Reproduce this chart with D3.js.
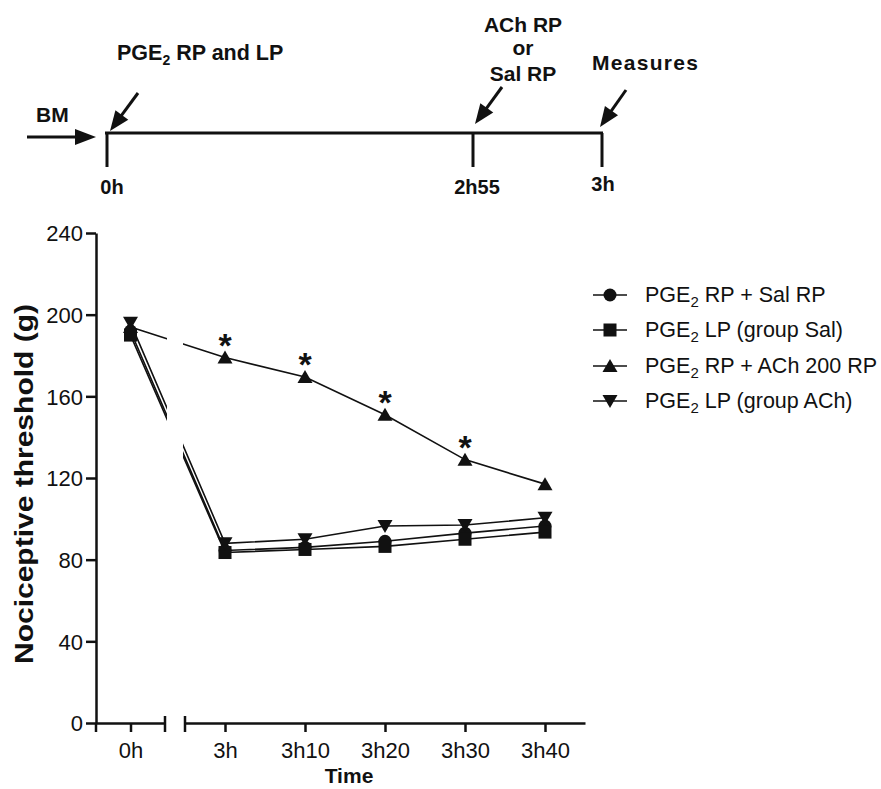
<!DOCTYPE html>
<html>
<head>
<meta charset="utf-8">
<script src="https://cdn.jsdelivr.net/npm/d3@7"></script>
<style>
  body { margin: 0; background: #fff; }
  svg { display: block; }
  text { font-family: "Liberation Sans", Arial, sans-serif; fill: #111; }
</style>
</head>
<body>
<svg id="chart" width="881" height="789"></svg>
<script>
// ---------- data ----------
const times = [0, 180, 190, 200, 210, 220];          // minutes
const timeLabels = ["0h", "3h", "3h10", "3h20", "3h30", "3h40"];
const yTicks = [0, 40, 80, 120, 160, 200, 240];

const salRP   = [192, 84.5, 86, 89, 93, 96.5];     // circle
const salLP   = [190, 83.5, 85, 86.5, 90, 93.5];   // square
const achRP   = [194, 179, 169.5, 151, 129, 117];  // up triangle
const achLP   = [196, 88, 90, 96.5, 97, 100.5];    // down triangle
const starTimes = [180, 190, 200, 210];

const seriesNames = ["PGE|2| RP + Sal RP", "PGE|2| LP (group Sal)", "PGE|2| RP + ACh 200 RP", "PGE|2| LP (group ACh)"];
const seriesSymbols = ["circle", "square", "up", "down"];

const timeline = [
  { label: "0h", at: 0 },
  { label: "2h55", at: 175 },
  { label: "3h", at: 180 }
];

// ---------- setup ----------
const svg = d3.select("#chart");
const ink = "#111";

const y = d3.scaleLinear().domain([0, 240]).range([723, 233]);
const xl = d3.scaleLinear().domain([-5, 5]).range([96, 165]);
const xr = d3.scaleLinear().domain([175, 225]).range([185, 585]);
const x = t => (t <= 5 ? xl(t) : xr(t));

// ---------- timeline (top, not to scale) ----------
const tl = d3.scaleLinear().domain([0, 175, 180]).range([107, 473, 602]);
const tg = svg.append("g");
tg.append("line").attr("x1", 105).attr("x2", tl(180) + 1).attr("y1", 133).attr("y2", 133)
  .attr("stroke", ink).attr("stroke-width", 3);
const tlOffset = { 0: [5, 194], 175: [4, 194], 180: [1, 191] };
timeline.forEach(d => {
  tg.append("line").attr("x1", tl(d.at)).attr("x2", tl(d.at)).attr("y1", 133).attr("y2", 167)
    .attr("stroke", ink).attr("stroke-width", 3);
  tg.append("text").attr("x", tl(d.at) + tlOffset[d.at][0]).attr("y", tlOffset[d.at][1])
    .attr("text-anchor", "middle").attr("font-weight", "bold").attr("font-size", 20)
    .text(d.label);
});

function arrow(x1, y1, x2, y2, hl, hw) {
  const ang = Math.atan2(y2 - y1, x2 - x1);
  const bx = x2 - hl * Math.cos(ang), by = y2 - hl * Math.sin(ang);
  const px = -Math.sin(ang) * hw, py = Math.cos(ang) * hw;
  tg.append("line").attr("x1", x1).attr("y1", y1).attr("x2", bx + hl * 0.2 * Math.cos(ang)).attr("y2", by + hl * 0.2 * Math.sin(ang))
    .attr("stroke", ink).attr("stroke-width", 3);
  tg.append("path").attr("d", `M${x2},${y2}L${bx + px},${by + py}L${bx - px},${by - py}Z`).attr("fill", ink);
}
arrow(27, 137, 96, 137, 21, 8);
arrow(138, 93, 110, 131, 20, 8);
arrow(502, 87, 475, 124, 20, 8);
arrow(626, 90, 600, 127, 20, 8);

const bold = (t, xx, yy, txt, anchor, ls) => t.append("text").attr("x", xx).attr("y", yy)
  .attr("font-weight", "bold").attr("font-size", 21).attr("text-anchor", anchor || "start")
  .attr("letter-spacing", ls || 0).text(txt);

bold(tg, 36, 122, "BM");
const pge = tg.append("text").attr("x", 117).attr("y", 60).attr("font-weight", "bold").attr("font-size", 21.5);
pge.append("tspan").text("PGE");
pge.append("tspan").attr("font-size", 14).attr("dy", 5).text("2");
pge.append("tspan").attr("dy", -5).text(" RP and LP");
bold(tg, 523, 32, "ACh RP", "middle");
bold(tg, 523, 55, "or", "middle");
bold(tg, 523, 81, "Sal RP", "middle");
bold(tg, 592, 70, "Measures", "start", 1.3);

// ---------- axes ----------
const axisW = 2.5;
const ya = svg.append("g").attr("transform", "translate(96,0)")
  .call(d3.axisLeft(y).tickValues(yTicks).tickSize(10).tickSizeOuter(0).tickPadding(3));
ya.selectAll("text").attr("font-size", 22).attr("fill", ink).attr("dy", "0.36em");
ya.selectAll("line, path").attr("stroke", ink).attr("stroke-width", axisW);

const xaL = svg.append("g").attr("transform", "translate(0,723)")
  .call(d3.axisBottom(xl).tickValues([0]).tickFormat(() => timeLabels[0]).tickSize(9).tickSizeOuter(0).tickPadding(10));
const xaR = svg.append("g").attr("transform", "translate(0,723)")
  .call(d3.axisBottom(xr).tickValues(times.slice(1)).tickFormat((d, i) => timeLabels[i + 1]).tickSize(9).tickSizeOuter(0).tickPadding(10));
[xaL, xaR].forEach(a => {
  a.selectAll("text").attr("font-size", 22).attr("fill", ink).attr("dy", "0.72em");
  a.selectAll("line, path").attr("stroke", ink).attr("stroke-width", axisW);
});
[xl.range()[1], xr.range()[0]].forEach(px => {
  svg.append("line").attr("x1", px).attr("x2", px).attr("y1", 716).attr("y2", 732)
    .attr("stroke", ink).attr("stroke-width", axisW);
});
svg.append("line").attr("x1", 96).attr("x2", 96).attr("y1", 723).attr("y2", 732)
  .attr("stroke", ink).attr("stroke-width", axisW);

svg.append("text").attr("transform", "translate(33,484) rotate(-90)")
  .attr("text-anchor", "middle").attr("font-weight", "bold").attr("font-size", 25)
  .attr("textLength", 360).attr("lengthAdjust", "spacingAndGlyphs")
  .text("Nociceptive threshold (g)");
svg.append("text").attr("x", 349).attr("y", 783).attr("text-anchor", "middle")
  .attr("font-weight", "bold").attr("font-size", 21).text("Time");

// ---------- data lines ----------
const clip = svg.append("defs").append("clipPath").attr("id", "brk");
clip.append("rect").attr("x", 0).attr("y", 0).attr("width", 167).attr("height", 789);
clip.append("rect").attr("x", 183).attr("y", 0).attr("width", 700).attr("height", 789);

const allSeries = [salRP, salLP, achRP, achLP];
const line = d3.line().x((d, i) => x(times[i])).y(d => y(d));
const lg = svg.append("g").attr("clip-path", "url(#brk)");
allSeries.forEach(s => {
  lg.append("path").attr("d", line(s)).attr("fill", "none").attr("stroke", ink).attr("stroke-width", 1.6);
});

function marker(g, type, cx, cy) {
  if (type === "circle") {
    g.append("circle").attr("cx", cx).attr("cy", cy).attr("r", 6.5).attr("fill", ink);
  } else if (type === "square") {
    g.append("rect").attr("x", cx - 6.5).attr("y", cy - 6.5).attr("width", 13).attr("height", 13).attr("fill", ink);
  } else if (type === "up") {
    g.append("path").attr("d", `M${cx},${cy - 7}L${cx + 7.5},${cy + 6}L${cx - 7.5},${cy + 6}Z`).attr("fill", ink);
  } else {
    g.append("path").attr("d", `M${cx},${cy + 7}L${cx + 7.5},${cy - 6}L${cx - 7.5},${cy - 6}Z`).attr("fill", ink);
  }
}
const mg = svg.append("g");
allSeries.forEach((s, k) => {
  s.forEach((v, i) => marker(mg, seriesSymbols[k], x(times[i]), y(v)));
});

starTimes.forEach(t => {
  const i = times.indexOf(t);
  svg.append("text").attr("x", x(t)).attr("y", y(achRP[i]) - 1).attr("text-anchor", "middle")
    .attr("font-size", 34).attr("font-weight", "bold").text("*");
});

// ---------- legend ----------
const legY = [295, 330, 366, 401];
seriesNames.forEach((name, k) => {
  const g = svg.append("g");
  g.append("line").attr("x1", 593).attr("x2", 627).attr("y1", legY[k]).attr("y2", legY[k])
    .attr("stroke", ink).attr("stroke-width", 1.6);
  marker(g, seriesSymbols[k], 610, legY[k]);
  const parts = name.split("|");
  const t = g.append("text").attr("x", 645).attr("y", legY[k] + 7).attr("font-size", 21.5);
  t.append("tspan").text(parts[0]);
  t.append("tspan").attr("font-size", 15).attr("dy", 5).text(parts[1]);
  t.append("tspan").attr("dy", -5).text(parts[2]);
});
</script>
</body>
</html>
